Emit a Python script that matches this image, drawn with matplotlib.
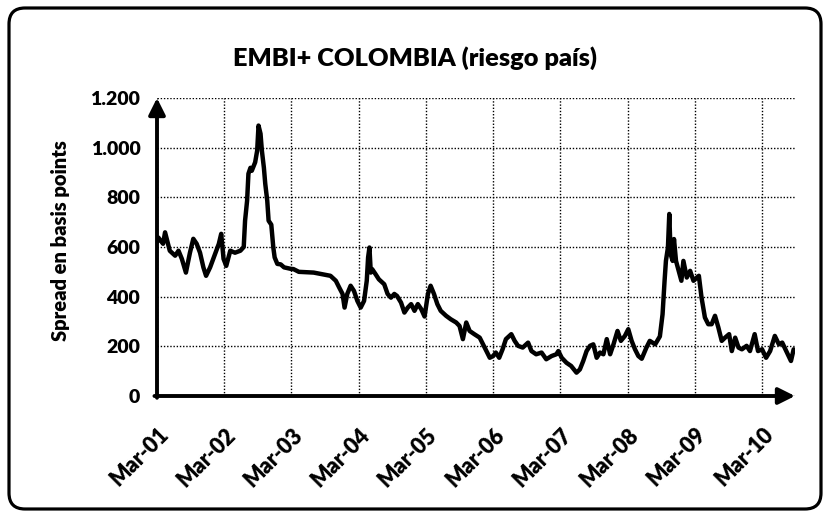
import numpy as np
import pandas as pd
import matplotlib
matplotlib.use("Agg")
import matplotlib.pyplot as plt
import matplotlib.dates as mdates
from matplotlib.patches import FancyBboxPatch
from matplotlib.transforms import ScaledTranslation

# ---------------- data ----------------
title = "EMBI+ COLOMBIA (riesgo país)"
y_label = "Spread en basis points"
start_date = "2001-03-01"
# time in years after Mar-01
t_years = [
    0.00, 0.02, 0.09, 0.12, 0.19, 0.27, 0.32, 0.37, 0.43, 0.49, 0.54, 0.59, 0.64,
    0.69, 0.73, 0.79, 0.87, 0.92, 0.955, 0.99, 1.03, 1.09, 1.16, 1.24, 1.29, 1.31,
    1.34, 1.36, 1.39, 1.41, 1.46, 1.49, 1.51, 1.54, 1.56, 1.59, 1.61, 1.64, 1.66,
    1.70, 1.73, 1.75, 1.79, 1.84, 1.89, 1.99, 2.03, 2.11, 2.33, 2.58, 2.66, 2.71,
    2.76, 2.79, 2.83, 2.88, 2.93, 2.98, 3.03, 3.08, 3.12, 3.14, 3.16, 3.18, 3.20,
    3.25, 3.30, 3.38, 3.43, 3.48, 3.53, 3.57, 3.63, 3.68, 3.73, 3.78, 3.83, 3.88,
    3.93, 3.98, 4.03, 4.07, 4.12, 4.17, 4.22, 4.30, 4.37, 4.45, 4.50, 4.55, 4.60,
    4.65, 4.72, 4.80, 4.85, 4.90, 4.95, 5.00, 5.04, 5.09, 5.14, 5.19, 5.27, 5.32,
    5.37, 5.44, 5.52, 5.57, 5.64, 5.72, 5.79, 5.87, 5.94, 5.97, 6.02, 6.09, 6.16,
    6.24, 6.29, 6.34, 6.39, 6.44, 6.49, 6.54, 6.59, 6.64, 6.69, 6.74, 6.79, 6.85,
    6.90, 6.96, 7.01, 7.06, 7.11, 7.16, 7.21, 7.28, 7.33, 7.41, 7.48, 7.52, 7.55,
    7.57, 7.60, 7.62, 7.64, 7.67, 7.69, 7.72, 7.76, 7.80, 7.83, 7.88, 7.93, 7.98,
    8.03, 8.06, 8.10, 8.15, 8.20, 8.25, 8.30, 8.35, 8.40, 8.45, 8.51, 8.55, 8.60,
    8.65, 8.70, 8.77, 8.82, 8.89, 8.94, 9.00, 9.06, 9.12, 9.19, 9.25, 9.30, 9.36,
    9.43, 9.47,
]
spread = [
    620, 638, 613, 659, 585, 565, 585, 552, 497, 577, 633, 613, 577,
    518, 484, 518, 577, 613, 653, 552, 524, 585, 577, 585, 600, 706,
    786, 895, 919, 907, 941, 988, 1089, 1056, 988, 919, 855, 786, 706,
    690, 598, 558, 532, 530, 518, 512, 511, 500, 497, 484, 464, 437,
    411, 356, 411, 444, 423, 383, 356, 383, 464, 558, 598, 497, 511,
    491, 470, 450, 411, 396, 411, 403, 376, 336, 356, 370, 343, 370,
    350, 320, 411, 444, 411, 370, 343, 323, 309, 296, 282, 229, 296,
    262, 249, 235, 208, 181, 154, 161, 175, 154, 188, 229, 249, 222,
    202, 195, 215, 181, 168, 175, 148, 161, 168, 181, 154, 134, 121,
    94, 107, 141, 181, 202, 208, 154, 175, 168, 229, 168, 208, 262,
    222, 242, 269, 222, 188, 161, 150, 195, 222, 208, 240, 329, 464,
    544, 598, 733, 571, 544, 632, 544, 504, 464, 544, 477, 504, 464,
    477, 484, 396, 316, 289, 289, 323, 276, 222, 235, 249, 181, 235,
    195, 188, 202, 181, 249, 181, 188, 154, 181, 242, 208, 215, 181,
    141, 188,
]
tick_years = list(range(2001, 2011))
y_ticks = [0, 200, 400, 600, 800, 1000, 1200]

# ---------------- figure ----------------
W, H, DPI = 831, 517, 100
fig = plt.figure(figsize=(W / DPI, H / DPI), dpi=DPI)
fam = ["Lato", "DejaVu Sans"]
plt.rcParams["font.family"] = fam

# rounded frame
frame = FancyBboxPatch((9 / DPI, 8 / DPI), (812 / DPI), (501 / DPI),
                       boxstyle="round,pad=0,rounding_size=0.16",
                       transform=fig.dpi_scale_trans, fill=False,
                       edgecolor="black", linewidth=2.3, zorder=0)
fig.patches.append(frame)

left_px, right_px, top_px, bot_px = 157, 795, 98, 396
ax = fig.add_axes([left_px / W, 1 - bot_px / H,
                   (right_px - left_px) / W, (bot_px - top_px) / H])

base = pd.Timestamp(start_date)
dates = base + pd.to_timedelta(np.array(t_years) * 365.25, unit="D")

ax.plot(dates, spread, color="black", linewidth=3.2,
        solid_joinstyle="round", solid_capstyle="round", zorder=3)

x0 = base
x1 = base + pd.Timedelta(days=9.49 * 365.25)
ax.set_xlim(x0, x1)
ax.set_ylim(0, 1200)

xt = [pd.Timestamp(f"{y}-03-01") for y in tick_years]
ax.set_xticks(xt)
ax.xaxis.set_major_formatter(mdates.DateFormatter("%b-%y"))
ax.set_yticks(y_ticks)
ax.yaxis.set_major_formatter(
    matplotlib.ticker.FuncFormatter(lambda v, p: f"{int(v):,}".replace(",", ".")))

ax.tick_params(axis="y", length=0, pad=12, labelsize=14)
ax.tick_params(axis="x", length=0, pad=25.5, labelsize=15.5)
for lab in ax.get_yticklabels():
    lab.set_fontweight("heavy")
for lab in ax.get_xticklabels():
    lab.set_fontweight("heavy")
    lab.set_rotation(45)
    lab.set_ha("right")
    lab.set_va("center")
    lab.set_rotation_mode("anchor")
    lab.set_transform(lab.get_transform() +
                      ScaledTranslation(8 / DPI, 0, fig.dpi_scale_trans))

ax.grid(True, color="black", linestyle=(0, (1, 1.3)), linewidth=1.0)
ax.set_axisbelow(True)
for s in ax.spines.values():
    s.set_visible(False)
ax.patch.set_visible(False)

arrow_kw = dict(arrowstyle="-|>,head_length=0.5,head_width=0.25",
                color="black", lw=2.8, shrinkA=0, shrinkB=0, mutation_scale=20)
ax.annotate("", xy=(1.0, 0), xytext=(-0.004, 0), xycoords="axes fraction",
            textcoords="axes fraction", arrowprops=arrow_kw, annotation_clip=False)
ax.annotate("", xy=(0, 1.0), xytext=(0, -0.006), xycoords="axes fraction",
            textcoords="axes fraction", arrowprops=arrow_kw, annotation_clip=False)

fig.text(415 / W, 1 - 58 / H, title, ha="center", va="center",
         fontsize=18.3, fontweight="heavy")
fig.text(61 / W, 1 - 241 / H, y_label, ha="center", va="center",
         rotation=90, fontsize=14.5, fontweight="heavy")

fig.savefig("out.png", dpi=DPI)
